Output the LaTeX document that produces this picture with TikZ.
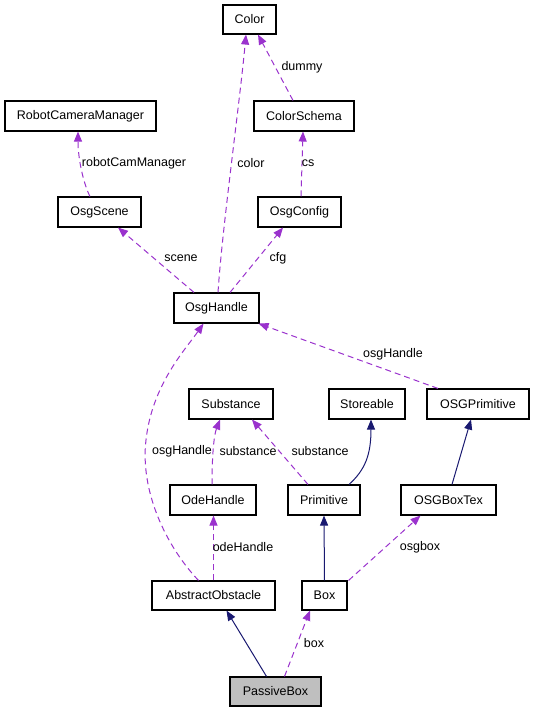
\documentclass[tikz,border=0pt]{standalone}
\usepackage{fontspec}
\setmainfont{Liberation Sans}
\usetikzlibrary{arrows.meta}
\definecolor{dep}{HTML}{9A32CD}
\definecolor{inh}{HTML}{191970}
\definecolor{cur}{HTML}{BFBFBF}
\begin{document}
\begin{tikzpicture}[x=1pt,y=-1pt,
  font=\fontsize{12.5}{14}\selectfont,
  cls/.style={draw=black,line width=1.1pt,fill=white,minimum height=29pt,inner sep=0pt,anchor=center},
  depline/.style={draw=dep,line width=1pt,dash pattern=on 6pt off 4pt,-{Triangle[length=10pt,width=8pt,fill=dep]}},
  inhline/.style={draw=inh,line width=1pt,-{Triangle[length=10pt,width=8pt,fill=inh]}},
  lbl/.style={inner sep=0pt,anchor=center}]
\useasboundingbox (0,0) rectangle (535,712);
% nodes
\node[cls,minimum width=53pt] (Color) at (249.5,19.5) {Color};
\node[cls,minimum width=151pt,minimum height=30pt] (RCM) at (80.5,116) {RobotCameraManager};
\node[cls,minimum width=100pt,minimum height=30pt] (ColorSchema) at (304,116) {ColorSchema};
\node[cls,minimum width=83pt,minimum height=30pt] (OsgScene) at (99.5,212) {OsgScene};
\node[cls,minimum width=83pt,minimum height=30pt] (OsgConfig) at (299.5,212) {OsgConfig};
\node[cls,minimum width=85pt,minimum height=30pt] (OsgHandle) at (216.5,308) {OsgHandle};
\node[cls,minimum width=84pt,minimum height=30pt] (Substance) at (231,404) {Substance};
\node[cls,minimum width=76pt,minimum height=30pt] (Storeable) at (367,404) {Storeable};
\node[cls,minimum width=102pt,minimum height=30pt] (OSGPrimitive) at (478,404) {OSGPrimitive};
\node[cls,minimum width=86pt,minimum height=30pt] (OdeHandle) at (213,500) {OdeHandle};
\node[cls,minimum width=72pt,minimum height=30pt] (Primitive) at (324,500) {Primitive};
\node[cls,minimum width=95pt,minimum height=30pt] (OSGBoxTex) at (448.5,500) {OSGBoxTex};
\node[cls,minimum width=123pt] (AbstractObstacle) at (213.5,595.5) {AbstractObstacle};
\node[cls,minimum width=45pt] (Box) at (324.5,595.5) {Box};
\node[cls,minimum width=91pt,fill=cur] (PassiveBox) at (275.5,691.5) {PassiveBox};
% dependency edges
\draw[depline] ([xshift=1.5pt]OsgHandle.north) .. controls (222,230) and (240,100) .. ([xshift=-3.5pt]Color.south);
\draw[depline] ([xshift=-11pt]ColorSchema.north) -- ([xshift=8.5pt]Color.south);
\draw[depline] ([xshift=-9.5pt]OsgScene.north) .. controls (84,185) and (78,160) .. ([xshift=-2.5pt]RCM.south);
\draw[depline] ([xshift=1.5pt]OsgConfig.north) -- ([xshift=-1pt]ColorSchema.south);
\draw[depline] ([xshift=-22.5pt]OsgHandle.north) -- ([xshift=18.5pt]OsgScene.south);
\draw[depline] ([xshift=13.5pt]OsgHandle.north) -- ([xshift=-16.5pt]OsgConfig.south);
\draw[depline] ([xshift=-40pt]OSGPrimitive.north) -- ([xshift=-1pt]OsgHandle.south east);
\draw[depline] ([xshift=-15pt]AbstractObstacle.north) .. controls (165,545) and (140,490) .. (146,440) .. controls (152,385) and (185,350) .. ([xshift=-13pt]OsgHandle.south);
\draw[depline] ([xshift=-1pt]OdeHandle.north) .. controls (212,455) and (214,435) .. ([xshift=-11pt]Substance.south);
\draw[depline] ([xshift=-16pt]Primitive.north) -- ([xshift=21pt]Substance.south);
\draw[depline] (AbstractObstacle.north) -- ([xshift=0.5pt]OdeHandle.south);
\draw[depline] ([xshift=1pt]Box.north east) -- ([xshift=-28pt]OSGBoxTex.south);
\draw[depline] ([xshift=9pt]PassiveBox.north) -- ([xshift=-14.5pt]Box.south);
% inheritance edges
\draw[inhline] ([xshift=25pt]Primitive.north) .. controls (365,470) and (371,455) .. ([xshift=4pt]Storeable.south);
\draw[inhline] ([xshift=3.5pt]OSGBoxTex.north) -- ([xshift=-7pt]OSGPrimitive.south);
\draw[inhline] (Box.north) -- (Primitive.south);
\draw[inhline] ([xshift=-9pt]PassiveBox.north) -- ([xshift=13pt]AbstractObstacle.south);
% labels
\node[lbl] (lcolor) at (251,163) {color};
\node[lbl] (ldummy) at (302,67) {dummy};
\node[lbl] (lrcm) at (134,163) {robotCamManager};
\node[lbl] (lcs) at (308,163) {cs};
\node[lbl] (lscene) at (181,258) {scene};
\node[lbl] (lcfg) at (278,258) {cfg};
\node[lbl] (losg1) at (393,354) {osgHandle};
\node[lbl] (losg2) at (182,451) {osgHandle};
\node[lbl] (lsub1) at (248,451) {substance};
\node[lbl] (lsub2) at (320,451) {substance};
\node[lbl] (lode) at (243,547) {odeHandle};
\node[lbl] (losgbox) at (420,547) {osgbox};
\node[lbl] (lbox) at (314,643) {box};
\end{tikzpicture}
\end{document}
